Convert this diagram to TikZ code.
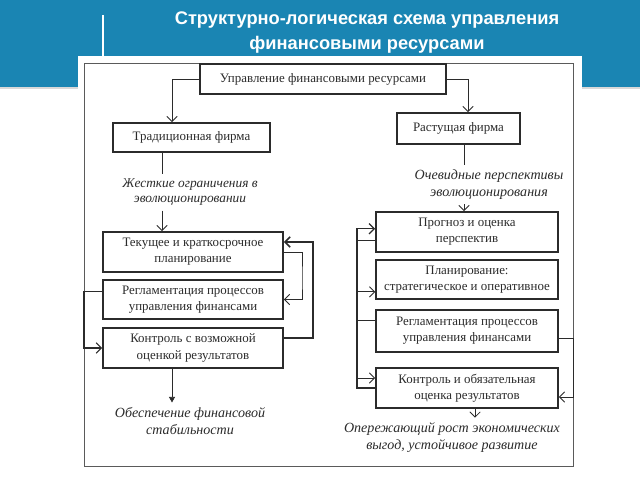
\documentclass[tikz,border=0pt]{standalone}
\usepackage{fontspec}
\setmainfont{Liberation Serif}
\newfontfamily\titlefont{Liberation Sans}
\definecolor{slBlue}{HTML}{1A85B3}
\definecolor{slLine}{HTML}{2B2B2B}
\definecolor{slFrame}{HTML}{5A5A5A}
\usetikzlibrary{arrows.meta}
\tikzset{
  stagebox/.style={draw=slLine, line width=1.2pt, align=center, text=slLine,
    font=\fontsize{9.2}{11.5}\selectfont, inner sep=0pt},
  note/.style={align=center, text=slLine, font=\fontsize{10}{12}\selectfont\itshape},
  arr/.style={-{Straight Barb[length=1.3mm,width=2.6mm]}},
  link/.style={draw=slLine, line width=0.6pt},
}

\begin{document}
\begin{tikzpicture}
  \useasboundingbox (0,0) rectangle (16,12);

  % Header
  \fill[slBlue] (0,9.825) rectangle (16,12);
  \fill[black!15] (0,9.78) rectangle (16,9.825);
  \fill[white] (1.95,0) rectangle (14.55,10.6);
  \draw[white, line width=0.8pt] (2.575,11.625) -- (2.575,10.6);
  \node[text=white, font=\titlefont\bfseries\fontsize{13}{17.5}\selectfont, align=center]
    (title) at (9.175,11.19) {Структурно-логическая схема управления\\финансовыми ресурсами};

  % Frame
  \draw[slFrame, line width=0.7pt] (2.1,0.35) rectangle (14.325,10.425);

  % Top and firms
  \node[stagebox, minimum width=6.15cm, minimum height=0.75cm] (mgmt) at (8.075,10.025) {Управление финансовыми ресурсами};
  \node[stagebox, minimum width=3.925cm, minimum height=0.725cm] (trad) at (4.7875,8.5625) {Традиционная фирма};
  \node[stagebox, minimum width=3.075cm, minimum height=0.775cm] (grow) at (11.4625,8.7875) {Растущая фирма};

  % Notes
  \node[note, font=\fontsize{9.5}{10.5}\selectfont\itshape] (tradnote) at (4.75,7.19) {Жесткие ограничения в\\эволюционировании};
  \node[note] (grownote) at (12.225,7.39) {Очевидные перспективы\\эволюционирования};
  \node[note] (stabnote) at (4.75,1.475) {Обеспечение финансовой\\стабильности};
  \node[note] (resnote) at (11.3,1.06) {Опережающий рост экономических\\выгод, устойчивое развитие};

  % Traditional firm
  \node[stagebox, minimum width=4.5cm, minimum height=1cm] (plan) at (4.825,5.7) {Текущее и краткосрочное\\планирование};
  \node[stagebox, minimum width=4.5cm, minimum height=0.975cm] (reg) at (4.825,4.5125) {Регламентация процессов\\управления финансами};
  \node[stagebox, minimum width=4.5cm, minimum height=1cm] (ctrl) at (4.825,3.3) {Контроль с возможной\\оценкой результатов};

  % Growing firm
  \node[stagebox, minimum width=4.55cm, minimum height=1cm] (fcst) at (11.675,6.2) {Прогноз и оценка\\перспектив};
  \node[stagebox, minimum width=4.55cm, minimum height=0.975cm] (strat) at (11.675,5.0125) {Планирование:\\стратегическое и оперативное};
  \node[stagebox, minimum width=4.55cm, minimum height=1.05cm] (regr) at (11.675,3.725) {Регламентация процессов\\управления финансами};
  \node[stagebox, minimum width=4.55cm, minimum height=1cm] (ctrlr) at (11.675,2.3) {Контроль и обязательная\\оценка результатов};

  % Helper points
  \coordinate (mx) at (4.3,0);
  \coordinate (gx) at (11.7,0);
  \coordinate (tx) at (4.05,0);
  \coordinate (ux) at (11.6,0);
  \coordinate (sx) at (4.3,0);
  \coordinate (ox) at (11.875,0);
  \coordinate (lbus) at (2.1,4);
  \coordinate (loopout) at (7.825,4.5);
  \coordinate (loopin) at (7.55,5);
  \coordinate (rbus) at (8.925,4);
  \coordinate (rframe) at (14.325,3);
  \coordinate (ctrlout) at ([yshift=0.25cm]ctrl.east);
  \coordinate (planin) at ([yshift=0.25cm]plan.east);
  \coordinate (regout) at ([yshift=0.21cm]reg.west);
  \coordinate (fcstin) at ([yshift=0.08cm]fcst.west);
  \coordinate (fcstout) at ([yshift=-0.22cm]fcst.west);
  \coordinate (stratin) at ([yshift=-0.31cm]strat.west);
  \coordinate (regrout) at ([yshift=0.275cm]regr.west);
  \coordinate (ctrlrin) at ([yshift=0.25cm]ctrlr.west);
  \coordinate (regrback) at ([yshift=-0.175cm]regr.east);
  \coordinate (ctrlrback) at ([yshift=-0.225cm]ctrlr.east);

  % Connectors
  \draw[link, arr] (mgmt.west) -| (trad.north -| mx);
  \draw[link, arr] (mgmt.east) -| (grow.north -| gx);
  \draw[link] (trad.south -| tx) -- (tradnote.north -| tx);
  \draw[link, arr] (tradnote.south -| tx) -- (plan.north -| tx);
  \draw[link] (grow.south -| ux) -- (grownote.north -| ux);
  \draw[link, arr] (grownote.south -| ux) -- (fcst.north -| ux);
  \draw[link, -{Triangle[length=1.4mm,width=1.5mm]}] (ctrl.south -| sx) -- (stabnote.north -| sx);
  \draw[link, arr] (ctrlr.south -| ox) -- (resnote.north -| ox);

  % Loops, left
  \draw[link, line width=1.1pt, arr] (ctrlout) -| (loopout) |- (planin);
  \draw[link, arr] (plan.east) -| (loopin) |- (reg.east);
  \draw[link, line width=0.8pt, arr] (regout) -| (lbus) |- (ctrl.west);

  % Loops, right
  \draw[link, line width=0.9pt, arr] (ctrlr.west) -| (rbus) |- (fcstin);
  \draw[link] (fcstout) -- (fcstout -| rbus);
  \draw[link, arr] (stratin -| rbus) -- (stratin);
  \draw[link] (regrout) -- (regrout -| rbus);
  \draw[link, arr] (ctrlrin -| rbus) -- (ctrlrin);
  \draw[link, arr] (regrback) -| (rframe) |- (ctrlrback);
\end{tikzpicture}
\end{document}
